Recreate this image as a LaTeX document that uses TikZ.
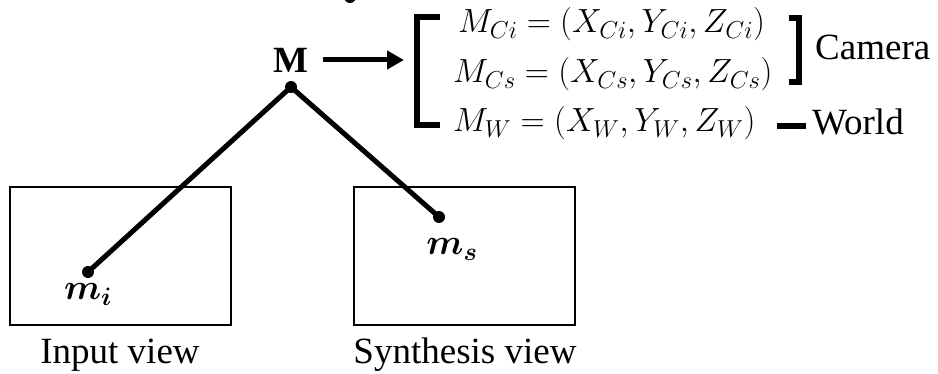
\RequirePackage{fix-cm}
\documentclass[tikz,border=0pt]{standalone}
\usepackage{amsmath}
\usepackage{bm}
\usepackage{fontspec}
\setmainfont{Liberation Serif}
\usetikzlibrary{arrows.meta}
\DeclareMathSizes{33.5}{33.5}{24.5}{18}
\tikzset{
  txt/.style={inner sep=0pt, anchor=base, font=\fontsize{37}{40}\selectfont},
  eq/.style={inner sep=0pt, anchor=base west, font=\fontsize{33.5}{38}\selectfont},
  pt/.style={circle, fill=black, inner sep=0pt, minimum size=12pt},
  ray/.style={line width=5pt},
  view/.style={draw, line width=1.5pt},
  brk/.style={line width=6pt, miter limit=10},
}
\begin{document}
\begin{tikzpicture}[x=1pt,y=-1pt]
\useasboundingbox (0,0) rectangle (938,374);
\clip (0,0) rectangle (938,374);
% cut-off mark at the top
\fill (350,-3) circle (6);
% view boxes
\draw[view] (10,187) rectangle (231,325);
\draw[view] (354,187) rectangle (575,325);
% points
\node[pt] (Mp) at (291,87) {};
\node[pt] (mip) at (88,272) {};
\node[pt] (msp) at (439,217) {};
\draw[ray] (Mp.center) -- (mip.center);
\draw[ray] (Mp.center) -- (msp.center);
% labels
\node[txt, font=\fontsize{37}{40}\selectfont\bfseries] (M) at (290.5,73) {M};
\node[txt, font=\fontsize{36}{38}\selectfont] (mi) at (88,300) {$\bm{m_i}$};
\node[txt, font=\fontsize{36}{38}\selectfont] (ms) at (452,255) {$\bm{m_s}$};
\node[txt] (inv) at (120,363) {Input view};
\node[txt] (syn) at (465,363) {Synthesis view};
% arrow
\coordinate (arrs) at (323,60);
\coordinate (arre) at (404,60);
\draw[line width=5pt, -{Triangle[length=17pt,width=18pt]}] (arrs) -- (arre);
% left bracket
\draw[brk] (440,17) -- (417,17) -- (417,125) -- (440,125);
% equations
\node[eq] (e1) at (458,33) {$M_{Ci}=(X_{Ci},Y_{Ci},Z_{Ci})$};
\node[eq] (e2) at (453,83) {$M_{Cs}=(X_{Cs},Y_{Cs},Z_{Cs})$};
\node[eq] (e3) at (453,132) {$M_{W}=(X_{W},Y_{W},Z_{W})$};
% right bracket and labels
\draw[brk] (789,18) -- (799,18) -- (799,82) -- (789,82);
\node[txt, anchor=base west] (cam) at (815,60) {Camera};
\draw[line width=6pt] (777,126) -- (806,126);
\node[txt, anchor=base west] (wor) at (812,135) {World};
\end{tikzpicture}
\end{document}
